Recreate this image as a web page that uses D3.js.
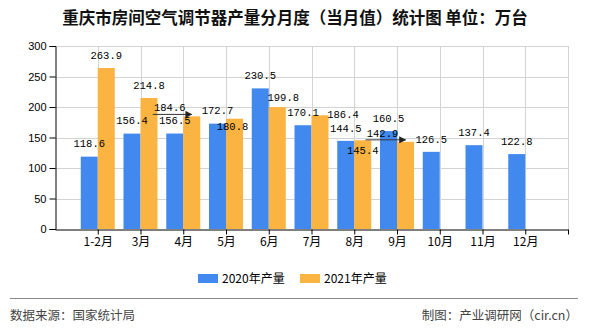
<!DOCTYPE html>
<html><head><meta charset="utf-8">
<script src="https://cdn.jsdelivr.net/npm/d3@7/dist/d3.min.js"></script>
<style>
html,body{margin:0;padding:0;background:#fff;}
svg{display:block;}
</style></head>
<body><svg id="c" width="590" height="330"></svg>
<script>
const categories = ["1-2月","3月","4月","5月","6月","7月","8月","9月","10月","11月","12月"];
const values2020 = [118.6,156.4,156.5,172.7,230.5,170.1,144.5,160.5,126.5,137.4,122.8];
const values2021 = [263.9,214.8,184.6,180.8,199.8,186.4,145.4,142.9];
const yTicks = [0,50,100,150,200,250,300];
const seriesNames = ["2020年产量","2021年产量"];
const title = "重庆市房间空气调节器产量分月度（当月值）统计图 单位：万台";
const sourceText = "数据来源：国家统计局";
const creditText = "制图：产业调研网（cir.cn）";

// label layout adjustments (pixel nudges to mimic the original's label collision layout)
const labelNudge = {
  s1: {2:{dx:-22,dy:4,arrow:true},3:{dx:-2,dy:21},4:{dx:6,dy:3},5:{dx:23,dy:12},6:{dx:0,dy:23},7:{dx:-23,dy:4,arrow:true}}
};

const colors = ["#4189EE","#FBB441"];
const svg = d3.select("#c");
const cjk = "'Noto Sans CJK SC','Noto Sans',sans-serif";
const M = {l:55, r:568, t:46, b:229};

const x = d3.scalePoint().domain(["__s", ...categories, "__e"]).range([M.l, M.r]);
const y = d3.scaleLinear().domain([0,300]).range([M.b, M.t]);
const bw = 17;

// title
svg.append("text").attr("x",295).attr("y",24).attr("text-anchor","middle")
  .attr("font-family",cjk).attr("font-size",16.5).attr("font-weight","bold").attr("fill","#111").text(title);

// grid
const g = svg.append("g");
g.selectAll(".hg").data(yTicks.filter(d=>d>0)).join("line")
  .attr("x1",M.l).attr("x2",M.r).attr("y1",d=>Math.round(y(d))+0.5).attr("y2",d=>Math.round(y(d))+0.5)
  .attr("stroke","#d3d3d3").attr("stroke-width",1);
g.selectAll(".vg").data([...categories,"__e"]).join("line")
  .attr("x1",d=>Math.round(x(d))+0.5).attr("x2",d=>Math.round(x(d))+0.5).attr("y1",M.t).attr("y2",M.b)
  .attr("stroke","#d3d3d3").attr("stroke-width",1);

// bars
const bars = svg.append("g");
bars.selectAll(".b0").data(values2020).join("rect")
  .attr("x",(d,i)=>x(categories[i])-bw).attr("width",bw)
  .attr("y",d=>y(d)).attr("height",d=>y(0)-y(d)).attr("fill",colors[0]);
bars.selectAll(".b1").data(values2021).join("rect")
  .attr("x",(d,i)=>x(categories[i])).attr("width",bw)
  .attr("y",d=>y(d)).attr("height",d=>y(0)-y(d)).attr("fill",colors[1]);

// axes
const yAxis = d3.axisLeft(y).tickValues(yTicks).tickSize(6).tickPadding(3);
const ya = svg.append("g").attr("transform",`translate(${M.l+0.5},0)`).call(yAxis);
ya.select(".domain").attr("stroke","#000");
ya.selectAll(".tick line").attr("stroke","#000");
ya.selectAll("text").attr("font-family","'Liberation Sans',Arial,sans-serif").attr("font-size",11).attr("fill","#000");

const xAxis = d3.axisBottom(x).tickValues([...categories,"__e"]).tickSize(5).tickSizeOuter(0).tickPadding(3)
  .tickFormat(d=>d==="__e"?"":d);
const xa = svg.append("g").attr("transform",`translate(0,${M.b+0.5})`).call(xAxis);
xa.select(".domain").attr("stroke","#000");
xa.selectAll(".tick line").attr("stroke","#000");
xa.selectAll("text").attr("font-family",cjk).attr("font-size",12).attr("fill","#000");

// marker
svg.append("defs").append("marker").attr("id","arr").attr("viewBox","0 0 10 10")
  .attr("refX",9).attr("refY",5).attr("markerWidth",7).attr("markerHeight",7).attr("markerUnits","userSpaceOnUse").attr("orient","auto")
  .append("path").attr("d","M0,0L10,5L0,10Z").attr("fill","#222");

// labels
const lab = svg.append("g").attr("font-family","'Liberation Mono','DejaVu Sans Mono',monospace").attr("font-size",10.5).attr("fill","#000").attr("text-anchor","middle");
function drawLabels(vals, si){
  vals.forEach((v,i)=>{
    const cx = si===0 ? x(categories[i])-bw/2 : x(categories[i])+bw/2;
    const cy = y(v)-13;
    const n = (labelNudge["s"+si]||{})[i] || {dx:0,dy:0};
    const lx = cx+n.dx, ly = cy+n.dy;
    if(n.arrow){
      svg.append("line").attr("x1",lx-17).attr("x2",cx).attr("y1",ly+7).attr("y2",ly+7)
        .attr("stroke","#333").attr("stroke-width",1).attr("marker-end","url(#arr)");
    }
    lab.append("text").attr("x",lx).attr("y",ly).attr("dy","0.35em").text(v.toFixed(1));
  });
}
drawLabels(values2020,0);
drawLabels(values2021,1);

// legend
const lg = svg.append("g");
const legendX = [198, 300];
seriesNames.forEach((s,i)=>{
  lg.append("rect").attr("x",legendX[i]).attr("y",274).attr("width",20).attr("height",9).attr("fill",colors[i]);
  lg.append("text").attr("x",legendX[i]+24).attr("y",278.5).attr("dy","0.35em")
    .attr("font-family",cjk).attr("font-size",12).attr("fill","#000").text(s);
});

// footer
svg.append("line").attr("x1",10).attr("x2",578).attr("y1",298.5).attr("y2",298.5).attr("stroke","#888").attr("stroke-width",1);
svg.append("text").attr("x",10).attr("y",316).attr("dy","0.35em").attr("font-family",cjk).attr("font-size",12.5).attr("fill","#444").text(sourceText);
svg.append("text").attr("x",578).attr("y",316).attr("dy","0.35em").attr("text-anchor","end").attr("font-family",cjk).attr("font-size",12.5).attr("fill","#444").text(creditText);
</script></body></html>
